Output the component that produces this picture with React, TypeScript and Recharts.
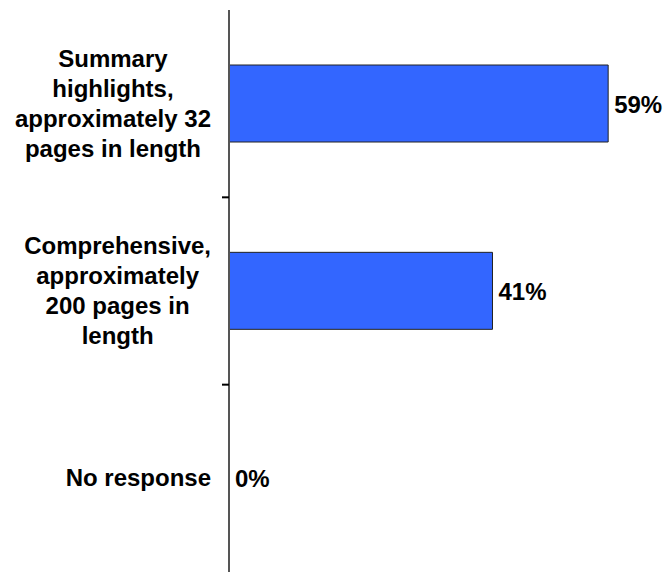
import { BarChart, Bar, XAxis, YAxis, LabelList, Cell } from 'recharts';

const categories = [
  'Summary\nhighlights,\napproximately 32\npages in length',
  'Comprehensive,\napproximately\n200 pages in\nlength',
  'No response',
];
const shares = [59, 41, 0];

const data = categories.map((label, i) => ({ label, value: shares[i] }));

const FONT = '"Liberation Sans", Arial, sans-serif';
const CHART_H = 572;
const TOP = 10;
const BAND = (CHART_H - TOP) / categories.length;

let ctx: CanvasRenderingContext2D | null = null;
function textWidth(s: string) {
  if (!ctx) ctx = document.createElement('canvas').getContext('2d');
  if (!ctx) return s.length * 13;
  ctx.font = `bold 24px ${FONT}`;
  return ctx.measureText(s).width;
}

function CategoryTick(props: any) {
  const { x, y, payload, index } = props;
  const lines = String(payload.value).split('\n');
  const blockW = Math.max(...lines.map(textWidth));
  const right = x - 18;
  const cx = right - blockW / 2;
  const lh = 30;
  const first = y - ((lines.length - 1) * lh) / 2 + 8;
  return (
    <g>
      {index > 0 && (
        <line x1={x - 7} x2={x} y1={y - BAND / 2} y2={y - BAND / 2} stroke="#000" strokeWidth={2} />
      )}
      <text textAnchor="middle" fontFamily={FONT} fontWeight="bold" fontSize={24} fill="#000">
        {lines.map((l, i) => (
          <tspan key={i} x={cx} y={first + i * lh}>
            {l}
          </tspan>
        ))}
      </text>
    </g>
  );
}

function ValueLabel(props: any) {
  const { x, y, width, height, value } = props;
  return (
    <text
      x={Number(x) + Number(width || 0) + 6}
      y={Number(y) + Number(height) / 2}
      dy={9}
      fontFamily={FONT}
      fontWeight="bold"
      fontSize={24}
      fill="#000"
    >
      {`${value}%`}
    </text>
  );
}

export default function App() {
  return (
    <div style={{ position: 'fixed', top: 0, left: 0, background: '#fff' }}>
      <BarChart
        width={672}
        height={CHART_H}
        data={data}
        layout="vertical"
        margin={{ top: TOP, right: 6, bottom: 0, left: 0 }}
      >
        <XAxis type="number" domain={[0, 68]} hide />
        <YAxis
          type="category"
          dataKey="label"
          width={229}
          axisLine={{ stroke: '#555', strokeWidth: 2 }}
          tickLine={false}
          tickSize={0}
          tickMargin={0}
          tick={<CategoryTick />}
          interval={0}
        />
        <Bar
          dataKey="value"
          fill="#3366ff"
          stroke="#222"
          strokeWidth={1}
          barSize={77}
          minPointSize={0.01}
          isAnimationActive={false}
        >
          {data.map((d) => (
            <Cell key={d.label} stroke={d.value === 0 ? 'none' : '#222'} />
          ))}
          <LabelList dataKey="value" content={<ValueLabel />} />
        </Bar>
      </BarChart>
    </div>
  );
}
